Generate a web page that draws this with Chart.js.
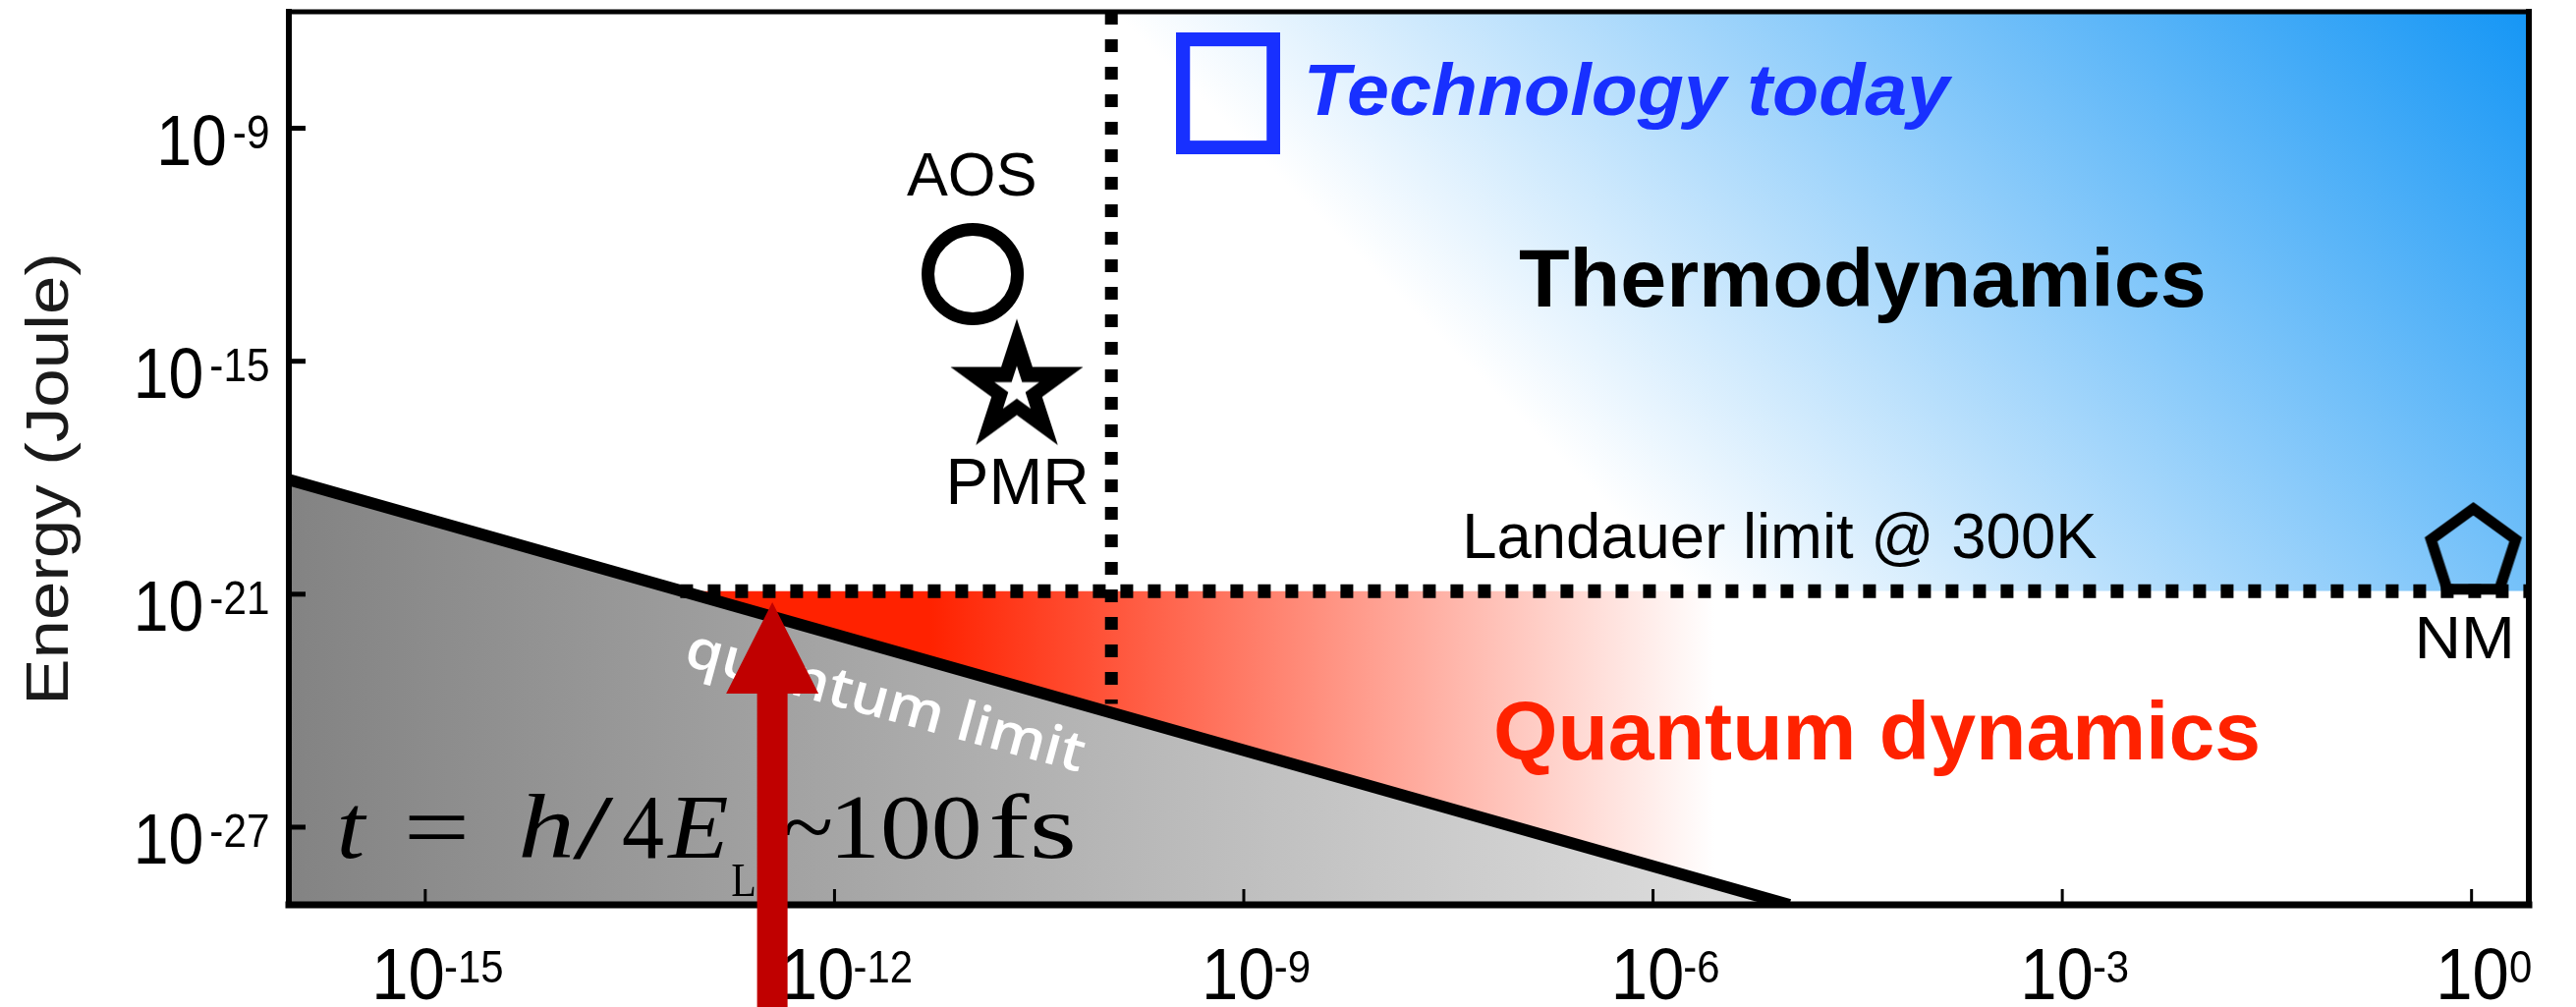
<!DOCTYPE html>
<html>
<head>
<meta charset="utf-8">
<script src="https://cdn.jsdelivr.net/npm/chart.js@4.4.1/dist/chart.umd.min.js"></script>
<style>
  html, body { margin: 0; padding: 0; background: #fff; overflow: hidden; }
  canvas { display: block; }
</style>
</head>
<body>
<canvas id="c" width="2622" height="1025"></canvas>
<script>
// ---------------- data: switching time t (s) vs. energy E (J) ----------------
const xTicks      = [1e-15, 1e-12, 1e-9, 1e-6, 1e-3, 1];
const xTickExp    = ['-15', '-12', '-9', '-6', '-3', '0'];
const yTicks      = [1e-27, 1e-21, 1e-15, 1e-9];
const yTickExp    = ['-27', '-21', '-15', '-9'];

const quantumLimit    = [{ x: 1e-16, y: 8.9e-19 }, { x: 1e-5, y: 1e-29 }];      // E*t bound
const landauerLimit   = [{ x: 7.4e-14, y: 1.2e-21 }, { x: 2.63, y: 1.2e-21 }];  // kT ln2 @ 300K
const thermoEdge      = [{ x: 1.07e-10, y: 1.2e-21 }, { x: 2.63, y: 1.2e-21 }];
const speedBoundary   = [{ x: 1.07e-10, y: 1e-6 }, { x: 1.07e-10, y: 1.5e-24 }];

const technologyToday = [{ x: 7.7e-10, y: 7.9e-9 }];
const aosPoint        = [{ x: 1.03e-11, y: 1.75e-13 }];
const pmrPoint        = [{ x: 2.17e-11, y: 1.98e-16 }];
const nmPoint         = [{ x: 1.03, y: 1.14e-20 }];

const arrowTip        = { x: 3.5e-13, y: 6.2e-22 };

// ---------------- styles ----------------
const SANS  = '"Liberation Sans", Arial, Helvetica, sans-serif';
const SERIF = '"Liberation Serif", "Times New Roman", serif';
const BLUE_MARK = '#1830ff';
const RED_TEXT  = '#ff2200';

// marker glyphs drawn on small canvases and used as point styles
function makeCanvas(w, h, draw) {
  const c = document.createElement('canvas');
  c.width = w; c.height = h;
  draw(c.getContext('2d'), w, h);
  return c;
}
const rectMark = makeCanvas(106, 124, (g, w, h) => {
  g.strokeStyle = BLUE_MARK; g.lineWidth = 14;
  g.strokeRect(7, 7, w - 14, h - 14);
});
function starPath(g, cx, cy, R, r) {
  g.beginPath();
  for (let i = 0; i < 10; i++) {
    const a = -Math.PI / 2 + i * Math.PI / 5;
    const rr = i % 2 === 0 ? R : r;
    const px = cx + rr * Math.cos(a), py = cy + rr * Math.sin(a);
    if (i === 0) g.moveTo(px, py); else g.lineTo(px, py);
  }
  g.closePath();
}
const starMark = makeCanvas(150, 150, (g, w, h) => {
  starPath(g, w / 2, h / 2, 71, 71 * 0.382);
  g.fillStyle = '#000'; g.fill();
  starPath(g, w / 2, h / 2 + 1, 24, 24 * 0.382);
  g.fillStyle = '#fff'; g.fill();
});
const pentMark = makeCanvas(124, 124, (g, w, h) => {
  g.beginPath();
  for (let i = 0; i < 5; i++) {
    const a = -Math.PI / 2 + i * 2 * Math.PI / 5;
    const px = w / 2 + 45.3 * Math.cos(a), py = h / 2 + 45.3 * Math.sin(a);
    if (i === 0) g.moveTo(px, py); else g.lineTo(px, py);
  }
  g.closePath();
  g.strokeStyle = '#000'; g.lineWidth = 11; g.lineJoin = 'miter'; g.stroke();
});

// region fills
function grayFill(ctx) {
  const ch = ctx.chart; if (!ch.chartArea) return '#999';
  const xs = ch.scales.x;
  const g = ch.ctx.createLinearGradient(xs.getPixelForValue(quantumLimit[0].x), 0,
                                        xs.getPixelForValue(quantumLimit[1].x), 0);
  g.addColorStop(0, '#838383');
  g.addColorStop(1, '#e1e1e1');
  return g;
}
function redFill(ctx) {
  const ch = ctx.chart; if (!ch.chartArea) return '#f20';
  const xs = ch.scales.x;
  const g = ch.ctx.createLinearGradient(xs.getPixelForValue(10 ** -11.3), 0,
                                        xs.getPixelForValue(10 ** -5.55), 0);
  g.addColorStop(0, 'rgb(255,34,0)');
  g.addColorStop(1, 'rgb(255,255,255)');
  return g;
}
function blueFill(ctx) {
  const ch = ctx.chart; const ca = ch.chartArea; if (!ca) return '#39f';
  const x0 = ca.left + 1134, y0 = ca.top + 294;
  const g = ch.ctx.createLinearGradient(x0, y0, x0 + 720, y0 - 720);
  g.addColorStop(0, 'rgb(255,255,255)');
  g.addColorStop(1, 'rgb(21,150,245)');
  return g;
}

// text drawn at a given cap height, optionally squeezed to an ink width
function fitText(ctx, text, o) {
  const st = o.style || 'normal', wt = o.weight || 'normal';
  let size = o.size;
  if (!size) {
    ctx.font = `${st} ${wt} 100px ${o.family}`;
    const capH = ctx.measureText(o.ref || 'H').actualBoundingBoxAscent;
    size = 100 * o.cap / capH;
  }
  ctx.font = `${st} ${wt} ${size}px ${o.family}`;
  const m = ctx.measureText(text);
  const inkW = m.actualBoundingBoxLeft + m.actualBoundingBoxRight;
  const sx = o.width ? o.width / inkW : (o.sx || 1);
  const w = inkW * sx;
  const left = o.left !== undefined ? o.left : (o.center !== undefined ? o.center - w / 2 : o.right - w);
  ctx.save();
  ctx.fillStyle = o.color || '#000';
  ctx.textAlign = 'left';
  ctx.textBaseline = 'alphabetic';
  ctx.translate(left, o.base);
  ctx.scale(sx, 1);
  ctx.fillText(text, m.actualBoundingBoxLeft, 0);
  ctx.restore();
  return { left, right: left + w, sx, width: w };
}
function measureInk(ctx, text, o) {
  ctx.font = `normal normal 100px ${o.family}`;
  const capH = ctx.measureText(o.ref || 'H').actualBoundingBoxAscent;
  const size = 100 * o.cap / capH;
  ctx.font = `normal normal ${size}px ${o.family}`;
  const m = ctx.measureText(text);
  return { size, inkW: m.actualBoundingBoxLeft + m.actualBoundingBoxRight };
}

// axes frame, inward ticks, tick labels and annotations
const annotations = {
  id: 'annotations',
  afterDatasetsDraw(chart) {
    const ctx = chart.ctx, ca = chart.chartArea;
    const xs = chart.scales.x, ys = chart.scales.y;
    const P = (lt, lE) => ({ x: xs.getPixelForValue(10 ** lt), y: ys.getPixelForValue(10 ** lE) });

    // frame
    ctx.save();
    ctx.strokeStyle = '#000';
    ctx.lineCap = 'square';
    ctx.lineWidth = 7;
    ctx.beginPath(); ctx.moveTo(ca.left, ca.bottom); ctx.lineTo(ca.right, ca.bottom); ctx.stroke();
    ctx.lineWidth = 5;
    ctx.beginPath(); ctx.moveTo(ca.left, ca.top); ctx.lineTo(ca.right, ca.top); ctx.stroke();
    ctx.lineWidth = 6;
    ctx.beginPath(); ctx.moveTo(ca.left, ca.top); ctx.lineTo(ca.left, ca.bottom); ctx.stroke();
    ctx.beginPath(); ctx.moveTo(ca.right, ca.top); ctx.lineTo(ca.right, ca.bottom); ctx.stroke();

    // ticks
    ctx.lineCap = 'butt';
    ctx.lineWidth = 3;
    xTicks.forEach(v => {
      const x = xs.getPixelForValue(v);
      ctx.beginPath(); ctx.moveTo(x, ca.bottom); ctx.lineTo(x, ca.bottom - 16); ctx.stroke();
    });
    ctx.lineWidth = 5;
    yTicks.forEach(v => {
      const y = ys.getPixelForValue(v);
      ctx.beginPath(); ctx.moveTo(ca.left, y); ctx.lineTo(ca.left + 17, y); ctx.stroke();
    });
    ctx.restore();

    // x tick labels: 10 with raised exponent
    xTicks.forEach((v, i) => {
      const x = xs.getPixelForValue(v);
      const base = measureInk(ctx, '10', { family: SANS, cap: 52, ref: '0' });
      const sx = 68 / base.inkW;
      const ex = measureInk(ctx, xTickExp[i], { family: SANS, cap: 32, ref: '1' });
      const total = 68 + 3 + ex.inkW * sx;
      const left = x + 14 - total / 2;
      const a = fitText(ctx, '10', { family: SANS, cap: 52, ref: '0', width: 68, left, base: ca.bottom + 96 });
      fitText(ctx, xTickExp[i], { family: SANS, cap: 32, ref: '1', sx, left: a.right + 3, base: ca.bottom + 79 });
    });

    // y tick labels
    yTicks.forEach((v, i) => {
      const y = ys.getPixelForValue(v);
      const base = measureInk(ctx, '10', { family: SANS, cap: 51, ref: '0' });
      const sx = 65 / base.inkW;
      const e = fitText(ctx, yTickExp[i], { family: SANS, cap: 33, ref: '1', sx, right: ca.left - 21, base: y + 20 });
      fitText(ctx, '10', { family: SANS, cap: 51, ref: '0', width: 65, right: e.left - 10, base: y + 37 });
    });

    // y axis title
    ctx.save();
    ctx.translate(ca.left - 225, ys.getPixelForValue(10 ** -23.71));
    ctx.rotate(-Math.PI / 2);
    fitText(ctx, 'Energy (Joule)', { family: SANS, cap: 42, width: 451, left: 0, base: 0, color: '#1a1a1a' });
    ctx.restore();

    // region and marker labels
    let p;
    p = P(-8.525, -8.657);
    fitText(ctx, 'Technology today', { family: SANS, weight: 'bold', style: 'italic', cap: 52, width: 656, left: p.x, base: p.y, color: BLUE_MARK });
    p = P(-11.002, -10.732);
    fitText(ctx, 'AOS', { family: SANS, cap: 44, width: 130, center: p.x, base: p.y });
    p = P(-10.649, -18.677);
    fitText(ctx, 'PMR', { family: SANS, cap: 46, width: 139, center: p.x, base: p.y });
    p = P(-0.049, -22.65);
    fitText(ctx, 'NM', { family: SANS, cap: 42, width: 92, center: p.x, base: p.y });
    p = P(-6.984, -13.591);
    fitText(ctx, 'Thermodynamics', { family: SANS, weight: 'bold', cap: 59, width: 697, left: p.x, base: p.y });
    p = P(-7.365, -20.069);
    fitText(ctx, 'Landauer limit @ 300K', { family: SANS, cap: 45, width: 641, left: p.x, base: p.y });
    p = P(-7.149, -25.256);
    fitText(ctx, 'Quantum dynamics', { family: SANS, weight: 'bold', cap: 58, width: 775, left: p.x, base: p.y, color: RED_TEXT });

    // label along the quantum limit line
    const q0 = { x: xs.getPixelForValue(quantumLimit[0].x), y: ys.getPixelForValue(quantumLimit[0].y) };
    const q1 = { x: xs.getPixelForValue(quantumLimit[1].x), y: ys.getPixelForValue(quantumLimit[1].y) };
    const ang = Math.atan2(q1.y - q0.y, q1.x - q0.x) * 0.96;
    p = P(-13.098, -22.827);
    ctx.save();
    ctx.translate(p.x, p.y);
    ctx.rotate(ang);
    fitText(ctx, 'quantum limit', { family: '"Open Sans", "Noto Sans", sans-serif', weight: '600', size: 56, width: 415, left: 0, base: 0, color: '#ffffff' });
    ctx.restore();

    // time formula t = h/4E_L ~ 100 fs
    const o = P(-15.618, -27.786);
    const parts = [
      { s: 't', it: true, l: 0, r: 27 },
      { s: '=', l: 69, r: 126 },
      { s: 'h', it: true, l: 184, r: 234 },
      { s: '/', l: 236, r: 278 },
      { s: '4', l: 287, r: 328 },
      { s: 'E', it: true, l: 331, r: 393 },
      { s: 'L', l: 398, r: 421, sub: true },
      { s: '~', l: 451, r: 499 },
      { s: '100', l: 506, r: 649 },
      { s: 'fs', l: 662, r: 745 }
    ];
    parts.forEach(pt => {
      fitText(ctx, pt.s, {
        family: SERIF, style: pt.it ? 'italic' : 'normal',
        cap: pt.sub ? 32 : 60, ref: 'E',
        width: pt.r - pt.l, left: o.x + pt.l, base: o.y + (pt.sub ? 39 : 0), color: '#000'
      });
    });
  },
  afterDraw(chart) {
    // red arrow pointing at the crossing of the two limits
    const ctx = chart.ctx;
    const x = chart.scales.x.getPixelForValue(arrowTip.x);
    const y = chart.scales.y.getPixelForValue(arrowTip.y);
    const headH = 93, headW = 94, shaftW = 31;
    ctx.save();
    ctx.fillStyle = '#c00000';
    ctx.beginPath();
    ctx.moveTo(x, y);
    ctx.lineTo(x + headW / 2, y + headH);
    ctx.lineTo(x + shaftW / 2, y + headH);
    ctx.lineTo(x + shaftW / 2, chart.height + 2);
    ctx.lineTo(x - shaftW / 2, chart.height + 2);
    ctx.lineTo(x - shaftW / 2, y + headH);
    ctx.lineTo(x - headW / 2, y + headH);
    ctx.closePath();
    ctx.fill();
    ctx.restore();
  }
};

const lineBase = { showLine: true, pointRadius: 0, pointHoverRadius: 0, tension: 0 };

new Chart(document.getElementById('c'), {
  type: 'scatter',
  data: {
    datasets: [
      { label: 'Technology today', data: technologyToday, pointStyle: rectMark, pointRadius: 10, order: 0 },
      { label: 'AOS', data: aosPoint, pointStyle: 'circle', pointRadius: 45.5, borderWidth: 13,
        borderColor: '#000', backgroundColor: 'rgba(0,0,0,0)', order: 0 },
      { label: 'PMR', data: pmrPoint, pointStyle: starMark, pointRadius: 10, order: 0 },
      { label: 'NM', data: nmPoint, pointStyle: pentMark, pointRadius: 10, order: 0 },
      { ...lineBase, label: 'Landauer limit', data: landauerLimit, borderColor: '#000', borderWidth: 14,
        borderDash: [13, 15], borderCapStyle: 'butt', fill: false, order: 1 },
      { ...lineBase, label: 'speed boundary', data: speedBoundary, borderColor: '#000', borderWidth: 13,
        borderDash: [13, 15], borderCapStyle: 'butt', fill: false, order: 1 },
      { ...lineBase, label: 'quantum limit', data: quantumLimit, borderColor: '#000', borderWidth: 12,
        fill: 'start', backgroundColor: grayFill, order: 2 },
      { ...lineBase, label: 'Quantum dynamics', data: landauerLimit, borderColor: 'rgba(0,0,0,0)', borderWidth: 0.01,
        fill: 'start', backgroundColor: redFill, order: 3 },
      { ...lineBase, label: 'Thermodynamics', data: thermoEdge, borderColor: 'rgba(0,0,0,0)', borderWidth: 0.01,
        fill: 'end', backgroundColor: blueFill, order: 3 }
    ]
  },
  options: {
    responsive: false,
    animation: false,
    devicePixelRatio: 1,
    layout: { autoPadding: false, padding: { left: 294, top: 12, right: 48, bottom: 104 } },
    plugins: { legend: { display: false }, tooltip: { enabled: false } },
    events: [],
    scales: {
      x: {
        type: 'logarithmic', min: 1e-16, max: 2.63,
        ticks: { display: false }, grid: { display: false }, border: { display: false },
        afterFit: s => { s.height = 0; }
      },
      y: {
        type: 'logarithmic', min: 1e-29, max: 1e-6,
        ticks: { display: false }, grid: { display: false }, border: { display: false },
        afterFit: s => { s.width = 0; }
      }
    }
  },
  plugins: [annotations]
});
</script>
</body>
</html>
